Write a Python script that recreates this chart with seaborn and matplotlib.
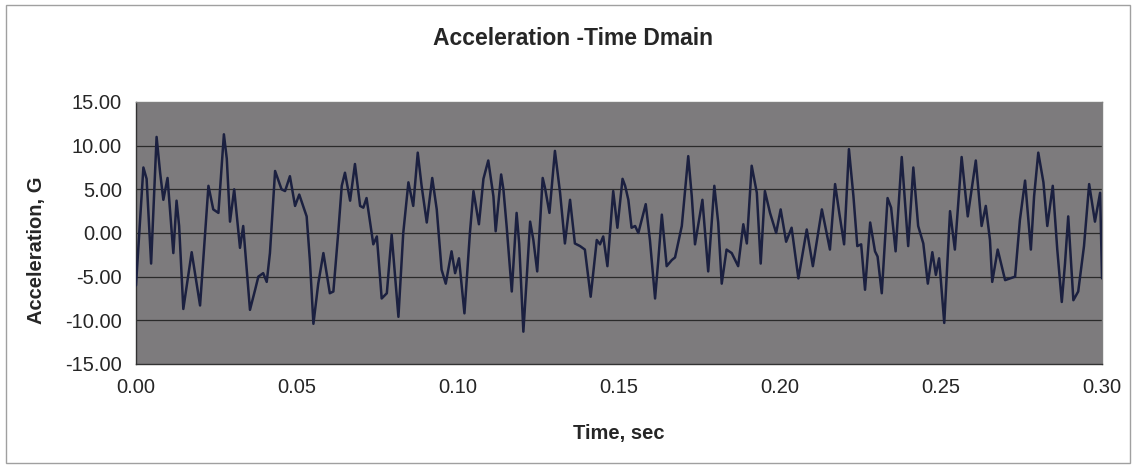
import matplotlib
matplotlib.use("Agg")
import matplotlib.pyplot as plt
from matplotlib.patches import Rectangle
from matplotlib.ticker import FormatStrFormatter
import pandas as pd
import seaborn as sns

# values (time in s, acceleration in G)
time_s = [
    0.0000, 0.0023, 0.0033, 0.0047, 0.0064, 0.0075, 0.0085, 0.0098, 0.0116, 0.0126,
    0.0134, 0.0147, 0.0173, 0.0199, 0.0225, 0.0240, 0.0256, 0.0273, 0.0282, 0.0292,
    0.0305, 0.0323, 0.0333, 0.0354, 0.0370, 0.0380, 0.0395, 0.0406, 0.0416, 0.0432,
    0.0452, 0.0463, 0.0478, 0.0494, 0.0507, 0.0530, 0.0540, 0.0551, 0.0566, 0.0582,
    0.0602, 0.0613, 0.0628, 0.0639, 0.0649, 0.0665, 0.0680, 0.0696, 0.0706, 0.0716,
    0.0737, 0.0748, 0.0763, 0.0779, 0.0794, 0.0815, 0.0830, 0.0846, 0.0861, 0.0875,
    0.0887, 0.0903, 0.0920, 0.0934, 0.0949, 0.0962, 0.0980, 0.0991, 0.1003, 0.1020,
    0.1037, 0.1048, 0.1065, 0.1079, 0.1094, 0.1110, 0.1117, 0.1134, 0.1141, 0.1151,
    0.1167, 0.1182, 0.1190, 0.1203, 0.1213, 0.1224, 0.1234, 0.1246, 0.1263, 0.1270,
    0.1284, 0.1301, 0.1317, 0.1332, 0.1348, 0.1363, 0.1379, 0.1394, 0.1412, 0.1431,
    0.1441, 0.1451, 0.1464, 0.1482, 0.1495, 0.1511, 0.1519, 0.1529, 0.1539, 0.1550,
    0.1560, 0.1583, 0.1596, 0.1612, 0.1622, 0.1633, 0.1648, 0.1664, 0.1674, 0.1695,
    0.1715, 0.1726, 0.1736, 0.1759, 0.1777, 0.1796, 0.1808, 0.1819, 0.1834, 0.1850,
    0.1870, 0.1886, 0.1897, 0.1912, 0.1928, 0.1940, 0.1953, 0.1969, 0.1988, 0.2002,
    0.2019, 0.2036, 0.2057, 0.2083, 0.2102, 0.2130, 0.2155, 0.2171, 0.2184, 0.2199,
    0.2214, 0.2228, 0.2240, 0.2252, 0.2264, 0.2280, 0.2295, 0.2303, 0.2316, 0.2334,
    0.2345, 0.2359, 0.2378, 0.2398, 0.2414, 0.2429, 0.2445, 0.2459, 0.2473, 0.2484,
    0.2494, 0.2510, 0.2528, 0.2543, 0.2564, 0.2583, 0.2608, 0.2626, 0.2639, 0.2652,
    0.2659, 0.2676, 0.2699, 0.2714, 0.2730, 0.2745, 0.2761, 0.2779, 0.2789, 0.2802,
    0.2818, 0.2830, 0.2847, 0.2861, 0.2875, 0.2885, 0.2895, 0.2911, 0.2926, 0.2944,
    0.2960, 0.2978, 0.2994, 0.3000,
]
accel_g = [
    -6.0, 7.5, 6.2, -3.5, 11.0, 6.9, 3.8, 6.3, -2.3, 3.7,
    0.8, -8.7, -2.2, -8.3, 5.4, 2.7, 2.3, 11.3, 8.5, 1.3,
    5.0, -1.7, 0.8, -8.8, -6.5, -5.0, -4.6, -5.6, -2.3, 7.1,
    5.0, 4.8, 6.5, 3.1, 4.4, 1.9, -3.1, -10.4, -5.8, -2.3,
    -6.9, -6.7, 0.0, 5.4, 6.9, 3.7, 7.9, 3.1, 2.9, 4.0,
    -1.3, -0.4, -7.5, -6.9, -0.2, -9.6, 0.0, 5.8, 3.1, 9.2,
    5.4, 1.2, 6.3, 2.7, -4.2, -5.8, -2.1, -4.6, -2.9, -9.2,
    0.0, 4.8, 1.0, 6.2, 8.3, 4.2, 0.2, 6.7, 5.0, 0.8,
    -6.7, 2.3, -1.2, -11.3, -5.4, 1.3, -0.8, -4.4, 6.3, 5.2,
    2.3, 9.4, 4.6, -1.2, 3.8, -1.2, -1.5, -1.9, -7.3, -0.8,
    -1.3, -0.4, -3.8, 4.8, 0.6, 6.2, 5.4, 3.8, 0.6, 0.8,
    0.0, 3.3, -0.8, -7.5, -3.1, 2.1, -3.8, -3.1, -2.8, 0.8,
    8.8, 4.2, -1.3, 3.8, -4.4, 5.4, 1.2, -5.8, -1.9, -2.3,
    -3.8, 1.0, -1.2, 7.7, 4.6, -3.5, 4.8, 2.3, 0.0, 2.7,
    -1.0, 0.6, -5.2, 0.4, -3.8, 2.7, -1.9, 5.6, 2.3, -1.3,
    9.6, 4.2, -1.5, -1.3, -6.5, 1.2, -2.1, -2.7, -6.9, 4.0,
    2.9, -2.1, 8.7, -1.5, 7.5, 0.8, -1.2, -5.8, -2.2, -4.8,
    -2.9, -10.3, 2.5, -1.9, 8.7, 1.9, 8.3, 0.8, 3.1, -0.8,
    -5.6, -1.9, -5.4, -5.2, -5.0, 1.5, 6.0, -1.9, 4.2, 9.2,
    5.8, 0.8, 5.4, -1.9, -7.9, -3.5, 1.9, -7.7, -6.7, -1.5,
    5.6, 1.3, 4.6, -5.2,
]
x_ticks = [0.00, 0.05, 0.10, 0.15, 0.20, 0.25, 0.30]
y_ticks = [-15, -10, -5, 0, 5, 10, 15]

df = pd.DataFrame({"Time": time_s, "Acceleration": accel_g})

sns.set_style("white")
plt.rcParams["font.family"] = ["Liberation Sans", "DejaVu Sans"]

fig = plt.figure(figsize=(11.36, 4.67), dpi=100)
ax = fig.add_axes([0.1197, 0.2206, 0.8504, 0.5610])
ax.set_facecolor("#7d7b7d")

# outer chart frame
fig.patches.append(Rectangle((0.005, 0.008), 0.99, 0.982, transform=fig.transFigure,
                             fill=False, edgecolor="#a0a0a0", linewidth=1.0))

for v in y_ticks[1:-1]:
    ax.axhline(v, color="#2a2a2a", linewidth=0.9, zorder=1)

sns.lineplot(data=df, x="Time", y="Acceleration", ax=ax, color="#1b2040",
             linewidth=1.8, sort=False, zorder=3)

ax.set_xlim(0, 0.30)
ax.set_ylim(-15, 15)
ax.set_xticks(x_ticks)
ax.set_yticks(y_ticks)
ax.xaxis.set_major_formatter(FormatStrFormatter("%.2f"))
ax.yaxis.set_major_formatter(FormatStrFormatter("%.2f"))
ax.tick_params(axis="both", which="major", direction="out", length=5, width=1,
               color="#333333", labelsize=14.5, pad=5)
for side in ["left", "bottom"]:
    ax.spines[side].set_color("#333333")
    ax.spines[side].set_linewidth(1.0)
for side in ["top", "right"]:
    ax.spines[side].set_color("#808080")
    ax.spines[side].set_linewidth(1.0)

ax.set_xlabel("Time, sec", fontsize=14.5, fontweight="bold")
ax.set_ylabel("Acceleration, G", fontsize=14.5, fontweight="bold")
ax.xaxis.set_label_coords(0.5, -0.228)
ax.yaxis.set_label_coords(-0.093, 0.435)
fig.text(0.5044, 0.9186, "Acceleration -Time Dmain", ha="center", va="center",
         fontsize=16.5, fontweight="bold")

fig.savefig("out.png", dpi=100, facecolor="white")
